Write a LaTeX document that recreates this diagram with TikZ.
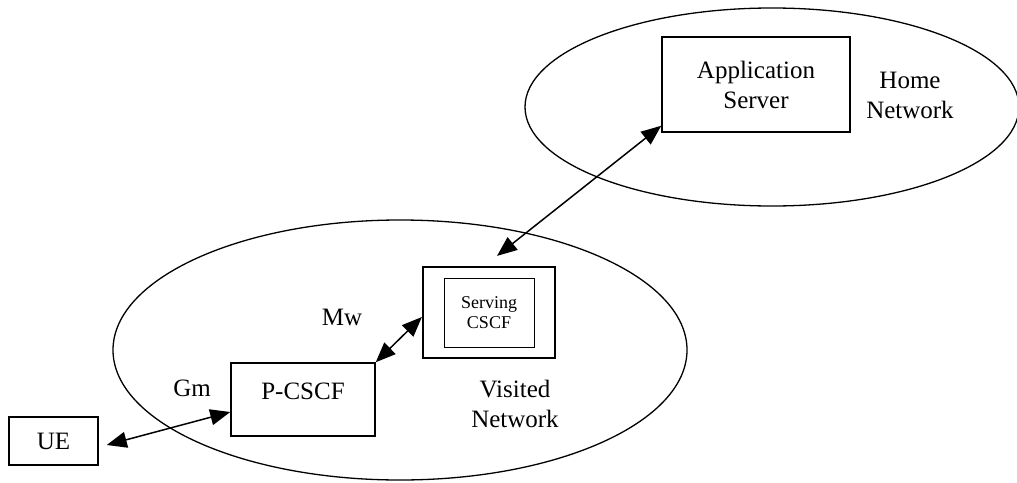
\documentclass[tikz,border=0pt]{standalone}
\usepackage{fontspec}
\setmainfont{Liberation Serif}
\usetikzlibrary{arrows.meta}

\begin{document}
\begin{tikzpicture}[
            x = 1pt, y = -1pt, % pixel units, y grows downwards
            font = \fontsize{25}{30}\selectfont,
            > = {Triangle[length=20pt, width=16pt]}, % big filled heads
            line width = 1.5pt
        ]

        \tikzstyle{box}=[
            draw = black,
            rectangle,
            align = center,
            inner sep = 0pt
        ]
        \tikzstyle{region}=[draw = black, line width = 1.3pt]
        \tikzstyle{link}=[<->, line width = 1.5pt]
        \tikzstyle{tag}=[align = center, inner sep = 0pt]

	\useasboundingbox (0,0) rectangle (1017,482);

	% networks
	\draw[region] (400,350) ellipse [x radius=287pt, y radius=130pt];
	\draw[region] (772,107) ellipse [x radius=247pt, y radius=99pt];

	\node[box, minimum width=89pt, minimum height=48pt] (ue) at (53.5,441) {UE};
	\node[box, minimum width=144pt, text height=36pt, text depth=37pt] (pcscf) at (303,399.5) {P-CSCF};
	\node[box, minimum width=132pt, minimum height=91pt, line width=2.2pt] (scscf) at (489,312.5) {};
	\node[box, minimum width=90pt, minimum height=69pt, line width=1pt,
	      font=\fontsize{18}{20}\selectfont] (scscf-in) at (scscf) {Serving\\CSCF};
	\node[box, minimum width=188pt, minimum height=95pt] (as) at (756,84.5) {Application\\Server};

	\node[tag] (gm) at (192,388) {Gm};
	\node[tag] (mw) at (342,317) {Mw};
	\node[tag] (visited) at (515,404) {Visited\\Network};
	\node[tag] (home) at (910,95) {Home\\Network};

	\draw[link] ([xshift=8pt, yshift=-4pt]ue.east) -- ([yshift=-12.5pt]pcscf.west);
	\draw[link] (pcscf.north east) -- ([yshift=-4.5pt]scscf.west);
	\draw[link] ([xshift=8pt, yshift=10pt]scscf.north) -- ([yshift=7pt]as.south west);

    \end{tikzpicture}
\end{document}
